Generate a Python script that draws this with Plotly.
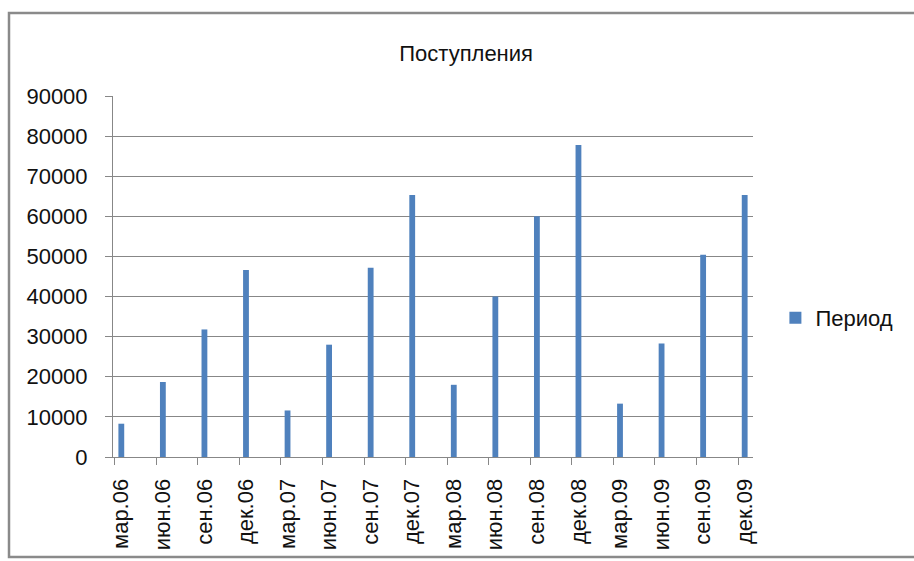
import plotly.graph_objects as go

# Quarterly receipts, March 2006 – December 2009
periods = ["мар.06", "июн.06", "сен.06", "дек.06",
           "мар.07", "июн.07", "сен.07", "дек.07",
           "мар.08", "июн.08", "сен.08", "дек.08",
           "мар.09", "июн.09", "сен.09", "дек.09"]
receipts = [8300, 18700, 31800, 46600,
            11600, 28000, 47200, 65300,
            18000, 40000, 60000, 77800,
            13300, 28300, 50400, 65300]
y_ticks = [0, 10000, 20000, 30000, 40000, 50000, 60000, 70000, 80000, 90000]

series_name = "Период"
chart_title = "Поступления"

BAR = "#4F81BD"
GRID = "#878787"
TEXT = "#111111"
FONT = "Liberation Sans"

pos = list(range(len(periods)))
tick_marks = [p - 0.16 for p in pos]
x_range = [-0.2, 15.2]

fig = go.Figure()
fig.add_trace(go.Bar(
    x=pos, y=receipts, name=series_name, width=0.14,
    marker=dict(color=BAR, line=dict(width=0)),
))
# helper trace so the tick-mark axis is drawn
fig.add_trace(go.Scatter(
    x=tick_marks, y=[0] * len(tick_marks), xaxis="x2", mode="markers",
    marker=dict(opacity=0), showlegend=False, hoverinfo="skip",
))

fig.update_layout(
    width=914, height=561,
    margin=dict(l=113, r=161, t=96, b=104),
    paper_bgcolor="white", plot_bgcolor="white",
    font=dict(family=FONT, color=TEXT, size=22),
    title=dict(text=chart_title, x=0.51, xanchor="center",
               y=1 - 53 / 561, yanchor="middle",
               font=dict(family=FONT, size=22, color=TEXT)),
    showlegend=True,
    legend=dict(x=1.035, y=0.385, xanchor="left", yanchor="middle",
                font=dict(family=FONT, size=22, color=TEXT),
                bgcolor="rgba(0,0,0,0)", borderwidth=0),
    xaxis=dict(
        range=x_range, tickmode="array", tickvals=pos, ticktext=periods,
        tickangle=-90, ticks="", showgrid=False, zeroline=False,
        showline=True, linecolor=GRID, linewidth=1,
        ticklabelstandoff=12,
        tickfont=dict(family=FONT, size=22, color=TEXT),
    ),
    xaxis2=dict(
        overlaying="x", anchor="y", side="bottom", range=x_range,
        tickmode="array", tickvals=tick_marks, showticklabels=False,
        ticks="outside", ticklen=7, tickcolor=GRID, tickwidth=1,
        showgrid=False, zeroline=False, showline=False,
    ),
    yaxis=dict(
        range=[0, 90000], tickmode="array", tickvals=y_ticks,
        ticktext=[str(v) for v in y_ticks],
        showgrid=True, gridcolor=GRID, gridwidth=1, zeroline=False,
        showline=True, linecolor=GRID, linewidth=1,
        ticks="outside", ticklen=7, tickcolor=GRID,
        ticklabelstandoff=13,
        tickfont=dict(family=FONT, size=22, color=TEXT),
    ),
    shapes=[dict(
        type="rect", xref="paper", yref="paper",
        x0=(9 - 113) / 640, x1=(925 - 113) / 640,
        y0=(457 - 557) / 361, y1=(457 - 13) / 361,
        line=dict(color="#8a8a8a", width=2.5), fillcolor="rgba(0,0,0,0)",
        layer="below",
    )],
)

fig.write_html("out.html")
